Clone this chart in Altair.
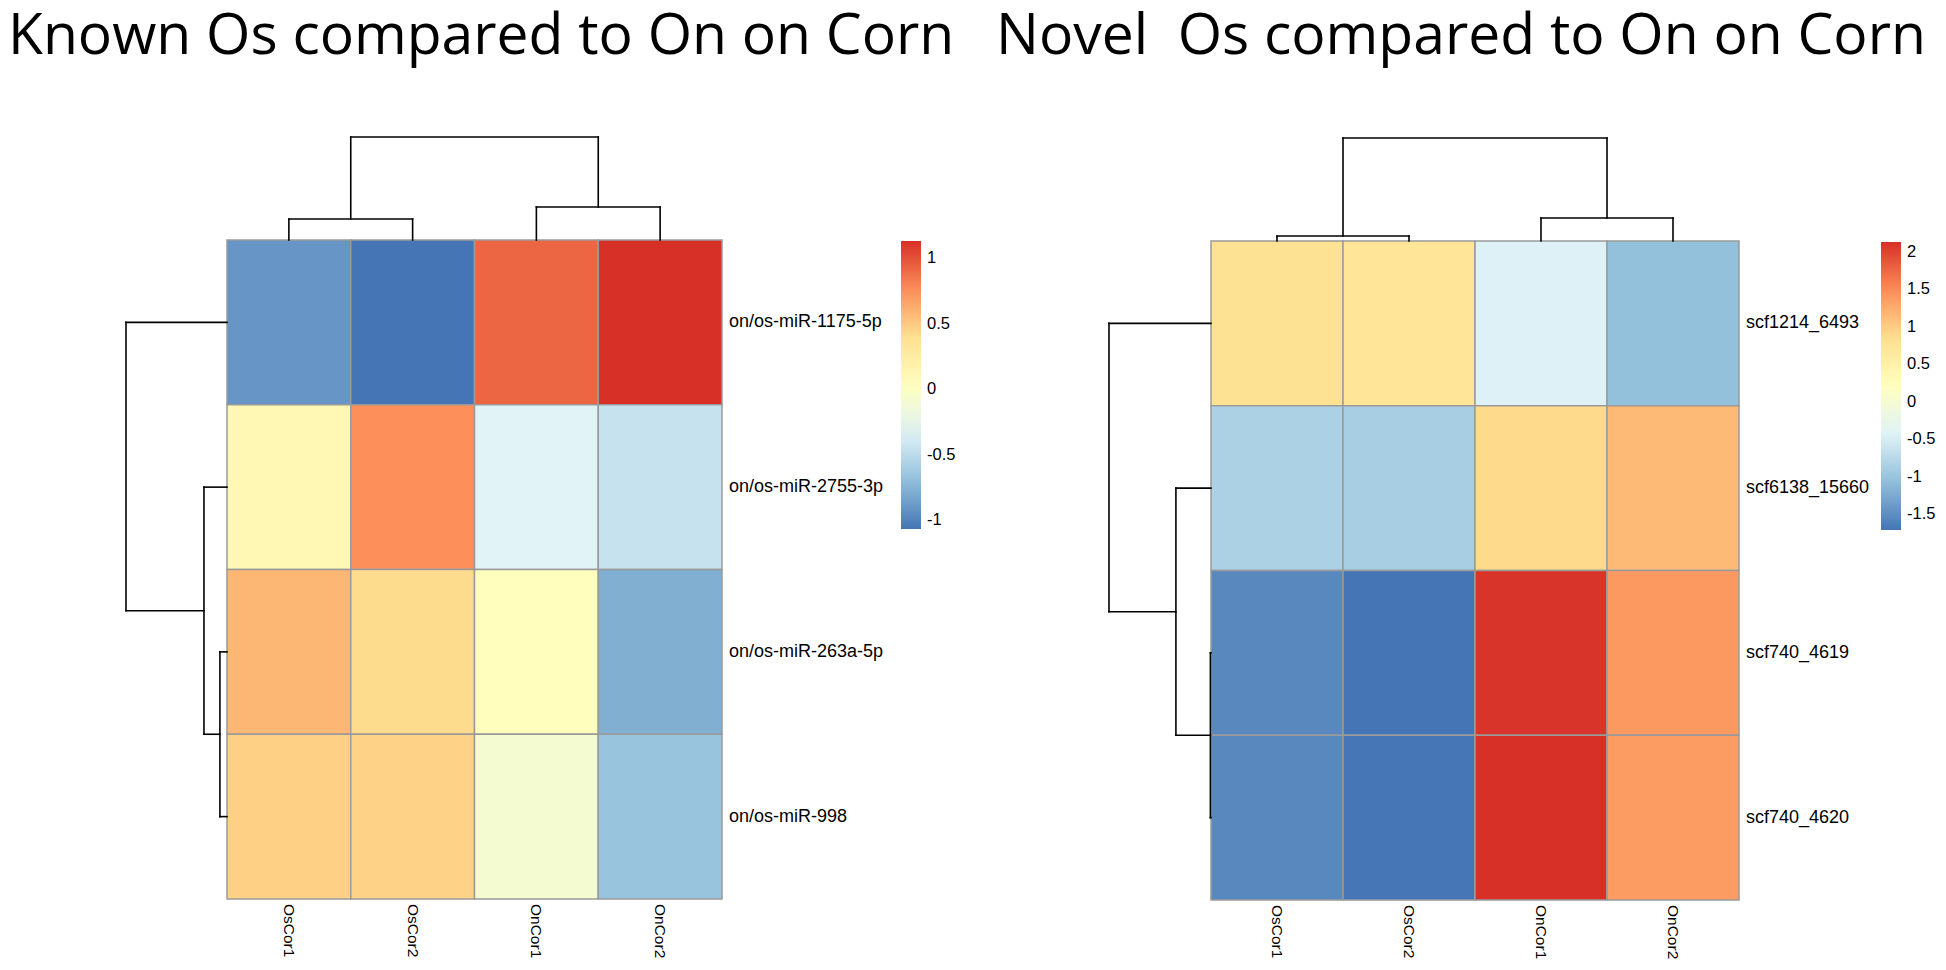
import altair as alt
import pandas as pd

# ---------------- data ----------------
samples = ["OsCor1", "OsCor2", "OnCor1", "OnCor2"]

known_genes = ["on/os-miR-1175-5p", "on/os-miR-2755-3p", "on/os-miR-263a-5p", "on/os-miR-998"]
known_values = [
    [-0.90, -1.065, 0.92, 1.133],
    [0.12, 0.76, -0.32, -0.45],
    [0.58, 0.42, 0.05, -0.78],
    [0.47, 0.46, -0.08, -0.66],
]
known_ticks = [-1, -0.5, 0, 0.5, 1]
# dendrograms: [merge height, left child, right child]; ints are leaf indices
known_col_tree = [5.0, [1.02, 0, 1], [1.60, 2, 3]]
known_row_tree = [5.0, 0, [1.14, 1, [0.35, 2, 3]]]

novel_genes = ["scf1214_6493", "scf6138_15660", "scf740_4619", "scf740_4620"]
novel_values = [
    [0.80, 0.75, -0.45, -1.05],
    [-0.85, -0.88, 0.90, 1.15],
    [-1.55, -1.71, 2.10, 1.40],
    [-1.55, -1.70, 2.13, 1.38],
]
novel_ticks = [-1.5, -1, -0.5, 0, 0.5, 1, 1.5, 2]
novel_col_tree = [5.0, [0.24, 0, 1], [1.12, 2, 3]]
novel_row_tree = [5.0, 0, [1.72, 1, [0.03, 2, 3]]]

titles = ["Known Os compared to On on Corn", "Novel\u00a0 Os compared to On on Corn"]

palette = ["#4575B4", "#91BFDB", "#E0F3F8", "#FFFFBF", "#FEE090", "#FC8D59", "#D73027"]

LABEL_FONT = "Liberation Sans"
TITLE_FONT = "Open Sans"


def dendro_segments(tree):
    segs = []

    def walk(node):
        if isinstance(node, int):
            return node + 0.5, 0.0
        h, a, b = node
        pa, ha = walk(a)
        pb, hb = walk(b)
        segs.append(dict(p=pa, p2=pa, h=ha, h2=h))
        segs.append(dict(p=pb, p2=pb, h=hb, h2=h))
        segs.append(dict(p=pa, p2=pb, h=h, h2=h))
        return (pa + pb) / 2, h

    walk(tree)
    return pd.DataFrame(segs)


def panel(genes, values, ticks, col_tree, row_tree, hm_x, hm_y, dend_px, legend_xy):
    nr, nc = len(genes), len(samples)
    rows = []
    for i, g in enumerate(genes):
        for j, s in enumerate(samples):
            rows.append(dict(gene=g, sample=s, c0=j, c1=j + 1, r0=i, r1=i + 1, value=values[i][j]))
    df = pd.DataFrame(rows)
    vmin, vmax = df["value"].min(), df["value"].max()
    stops = [vmin + k * (vmax - vmin) / (len(palette) - 1) for k in range(len(palette))]

    xs = alt.Scale(domain=[0, nc], range=hm_x)
    ys = alt.Scale(domain=[0, nr], range=hm_y)

    heat = alt.Chart(df).mark_rect(stroke="#9a9a9a", strokeWidth=1.5).encode(
        x=alt.X("c0:Q", scale=xs, axis=None),
        x2="c1:Q",
        y=alt.Y("r0:Q", scale=ys, axis=None),
        y2="r1:Q",
        color=alt.Color(
            "value:Q",
            scale=alt.Scale(domain=stops, range=palette, interpolate="rgb"),
            title=None,
            legend=alt.Legend(
                orient="none", legendX=legend_xy[0], legendY=legend_xy[1],
                direction="vertical", gradientLength=288, gradientThickness=20,
                gradientStrokeWidth=0, values=ticks, labelExpr="'' + datum.value",
                labelFont=LABEL_FONT, labelFontSize=16.5, labelColor="black",
                labelOffset=6, padding=0, labelOverlap=False,
            ),
        ),
    )

    # column dendrogram (above heatmap)
    cseg = dendro_segments(col_tree)
    cdend = alt.Chart(cseg).mark_rule(color="black", strokeWidth=1.6, strokeCap="square").encode(
        x=alt.X("p:Q", scale=xs, axis=None),
        x2="p2:Q",
        y=alt.Y("h:Q", scale=alt.Scale(domain=[0, col_tree[0]], range=[hm_y[0], hm_y[0] - dend_px[0]]), axis=None),
        y2="h2:Q",
    )

    # row dendrogram (left of heatmap)
    rseg = dendro_segments(row_tree)
    rdend = alt.Chart(rseg).mark_rule(color="black", strokeWidth=1.6, strokeCap="square").encode(
        y=alt.Y("p:Q", scale=ys, axis=None),
        y2="p2:Q",
        x=alt.X("h:Q", scale=alt.Scale(domain=[0, row_tree[0]], range=[hm_x[0], hm_x[0] - dend_px[1]]), axis=None),
        x2="h2:Q",
    )

    rlab = pd.DataFrame(dict(gene=genes, xpos=[nc] * nr, ymid=[i + 0.5 for i in range(nr)]))
    rtext = alt.Chart(rlab).mark_text(
        align="left", baseline="middle", dx=7, font=LABEL_FONT, fontSize=18, color="black"
    ).encode(
        x=alt.X("xpos:Q", scale=xs, axis=None),
        y=alt.Y("ymid:Q", scale=ys, axis=None),
        text="gene:N",
    )

    clab = pd.DataFrame(dict(sample=samples, xmid=[j + 0.5 for j in range(nc)], ypos=[nr] * nc))
    ctext = alt.Chart(clab).mark_text(
        align="left", baseline="middle", angle=90, dx=5, font=LABEL_FONT, fontSize=15.5, color="black"
    ).encode(
        x=alt.X("xmid:Q", scale=xs, axis=None),
        y=alt.Y("ypos:Q", scale=ys, axis=None),
        text="sample:N",
    )
    return [heat, cdend, rdend, rtext, ctext]


left = panel(known_genes, known_values, known_ticks, known_col_tree, known_row_tree,
             hm_x=[219, 714], hm_y=[232, 891], dend_px=[103, 101], legend_xy=[893, 233])
right = panel(novel_genes, novel_values, novel_ticks, novel_col_tree, novel_row_tree,
              hm_x=[1203, 1731], hm_y=[233, 892], dend_px=[103, 102], legend_xy=[1873, 234])

title_layers = []
for t, tx in zip(titles, [0, 988]):
    title_layers.append(
        alt.Chart(pd.DataFrame({"t": [t]})).mark_text(
            align="left", baseline="alphabetic", font=TITLE_FONT, fontSize=57, color="black"
        ).encode(x=alt.value(tx), y=alt.value(46), text="t:N")
    )

chart = alt.layer(*left, *right, *title_layers).resolve_scale(
    x="independent", y="independent", color="independent"
).properties(
    width=1930, height=954, autosize=alt.AutoSizeParams(type="none"), padding=0
).configure_view(stroke=None)

chart.save("out.html", embed_options={"renderer": "svg", "actions": False})
